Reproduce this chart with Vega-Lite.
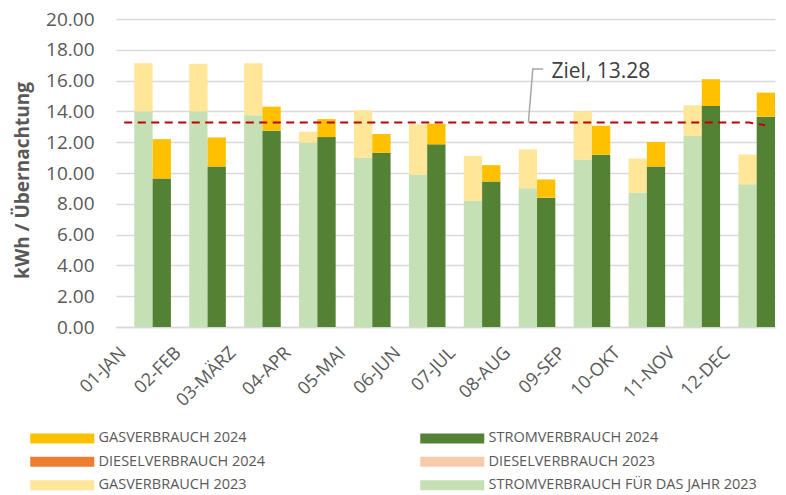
{
  "$schema": "https://vega.github.io/schema/vega-lite/v6.json",
  "width": 659,
  "height": 308,
  "autosize": "none",
  "padding": {"left": 116, "top": 19, "right": 11, "bottom": 168},
  "config": {
    "view": {"stroke": null},
    "font": "Open Sans",
    "axis": {"labelColor": "#595959", "titleColor": "#595959"}
  },
  "datasets": {
    "verbrauch": [
      {"monat": "01-JAN", "jahr": "2023", "typ": "Strom", "serie": "STROMVERBRAUCH FÜR DAS JAHR 2023", "wert": 14.0},
      {"monat": "01-JAN", "jahr": "2023", "typ": "Gas", "serie": "GASVERBRAUCH 2023", "wert": 3.13},
      {"monat": "01-JAN", "jahr": "2024", "typ": "Strom", "serie": "STROMVERBRAUCH 2024", "wert": 9.64},
      {"monat": "01-JAN", "jahr": "2024", "typ": "Gas", "serie": "GASVERBRAUCH 2024", "wert": 2.56},
      {"monat": "02-FEB", "jahr": "2023", "typ": "Strom", "serie": "STROMVERBRAUCH FÜR DAS JAHR 2023", "wert": 14.0},
      {"monat": "02-FEB", "jahr": "2023", "typ": "Gas", "serie": "GASVERBRAUCH 2023", "wert": 3.09},
      {"monat": "02-FEB", "jahr": "2024", "typ": "Strom", "serie": "STROMVERBRAUCH 2024", "wert": 10.42},
      {"monat": "02-FEB", "jahr": "2024", "typ": "Gas", "serie": "GASVERBRAUCH 2024", "wert": 1.89},
      {"monat": "03-MÄRZ", "jahr": "2023", "typ": "Strom", "serie": "STROMVERBRAUCH FÜR DAS JAHR 2023", "wert": 13.75},
      {"monat": "03-MÄRZ", "jahr": "2023", "typ": "Gas", "serie": "GASVERBRAUCH 2023", "wert": 3.38},
      {"monat": "03-MÄRZ", "jahr": "2024", "typ": "Strom", "serie": "STROMVERBRAUCH 2024", "wert": 12.75},
      {"monat": "03-MÄRZ", "jahr": "2024", "typ": "Gas", "serie": "GASVERBRAUCH 2024", "wert": 1.56},
      {"monat": "04-APR", "jahr": "2023", "typ": "Strom", "serie": "STROMVERBRAUCH FÜR DAS JAHR 2023", "wert": 11.97},
      {"monat": "04-APR", "jahr": "2023", "typ": "Gas", "serie": "GASVERBRAUCH 2023", "wert": 0.71},
      {"monat": "04-APR", "jahr": "2024", "typ": "Strom", "serie": "STROMVERBRAUCH 2024", "wert": 12.33},
      {"monat": "04-APR", "jahr": "2024", "typ": "Gas", "serie": "GASVERBRAUCH 2024", "wert": 1.17},
      {"monat": "05-MAI", "jahr": "2023", "typ": "Strom", "serie": "STROMVERBRAUCH FÜR DAS JAHR 2023", "wert": 10.97},
      {"monat": "05-MAI", "jahr": "2023", "typ": "Gas", "serie": "GASVERBRAUCH 2023", "wert": 3.1},
      {"monat": "05-MAI", "jahr": "2024", "typ": "Strom", "serie": "STROMVERBRAUCH 2024", "wert": 11.31},
      {"monat": "05-MAI", "jahr": "2024", "typ": "Gas", "serie": "GASVERBRAUCH 2024", "wert": 1.22},
      {"monat": "06-JUN", "jahr": "2023", "typ": "Strom", "serie": "STROMVERBRAUCH FÜR DAS JAHR 2023", "wert": 9.9},
      {"monat": "06-JUN", "jahr": "2023", "typ": "Gas", "serie": "GASVERBRAUCH 2023", "wert": 3.26},
      {"monat": "06-JUN", "jahr": "2024", "typ": "Strom", "serie": "STROMVERBRAUCH 2024", "wert": 11.86},
      {"monat": "06-JUN", "jahr": "2024", "typ": "Gas", "serie": "GASVERBRAUCH 2024", "wert": 1.34},
      {"monat": "07-JUL", "jahr": "2023", "typ": "Strom", "serie": "STROMVERBRAUCH FÜR DAS JAHR 2023", "wert": 8.21},
      {"monat": "07-JUL", "jahr": "2023", "typ": "Gas", "serie": "GASVERBRAUCH 2023", "wert": 2.89},
      {"monat": "07-JUL", "jahr": "2024", "typ": "Strom", "serie": "STROMVERBRAUCH 2024", "wert": 9.45},
      {"monat": "07-JUL", "jahr": "2024", "typ": "Gas", "serie": "GASVERBRAUCH 2024", "wert": 1.06},
      {"monat": "08-AUG", "jahr": "2023", "typ": "Strom", "serie": "STROMVERBRAUCH FÜR DAS JAHR 2023", "wert": 9.01},
      {"monat": "08-AUG", "jahr": "2023", "typ": "Gas", "serie": "GASVERBRAUCH 2023", "wert": 2.52},
      {"monat": "08-AUG", "jahr": "2024", "typ": "Strom", "serie": "STROMVERBRAUCH 2024", "wert": 8.4},
      {"monat": "08-AUG", "jahr": "2024", "typ": "Gas", "serie": "GASVERBRAUCH 2024", "wert": 1.18},
      {"monat": "09-SEP", "jahr": "2023", "typ": "Strom", "serie": "STROMVERBRAUCH FÜR DAS JAHR 2023", "wert": 10.88},
      {"monat": "09-SEP", "jahr": "2023", "typ": "Gas", "serie": "GASVERBRAUCH 2023", "wert": 3.12},
      {"monat": "09-SEP", "jahr": "2024", "typ": "Strom", "serie": "STROMVERBRAUCH 2024", "wert": 11.19},
      {"monat": "09-SEP", "jahr": "2024", "typ": "Gas", "serie": "GASVERBRAUCH 2024", "wert": 1.88},
      {"monat": "10-OKT", "jahr": "2023", "typ": "Strom", "serie": "STROMVERBRAUCH FÜR DAS JAHR 2023", "wert": 8.73},
      {"monat": "10-OKT", "jahr": "2023", "typ": "Gas", "serie": "GASVERBRAUCH 2023", "wert": 2.21},
      {"monat": "10-OKT", "jahr": "2024", "typ": "Strom", "serie": "STROMVERBRAUCH 2024", "wert": 10.42},
      {"monat": "10-OKT", "jahr": "2024", "typ": "Gas", "serie": "GASVERBRAUCH 2024", "wert": 1.59},
      {"monat": "11-NOV", "jahr": "2023", "typ": "Strom", "serie": "STROMVERBRAUCH FÜR DAS JAHR 2023", "wert": 12.4},
      {"monat": "11-NOV", "jahr": "2023", "typ": "Gas", "serie": "GASVERBRAUCH 2023", "wert": 2.0},
      {"monat": "11-NOV", "jahr": "2024", "typ": "Strom", "serie": "STROMVERBRAUCH 2024", "wert": 14.35},
      {"monat": "11-NOV", "jahr": "2024", "typ": "Gas", "serie": "GASVERBRAUCH 2024", "wert": 1.74},
      {"monat": "12-DEC", "jahr": "2023", "typ": "Strom", "serie": "STROMVERBRAUCH FÜR DAS JAHR 2023", "wert": 9.27},
      {"monat": "12-DEC", "jahr": "2023", "typ": "Gas", "serie": "GASVERBRAUCH 2023", "wert": 1.93},
      {"monat": "12-DEC", "jahr": "2024", "typ": "Strom", "serie": "STROMVERBRAUCH 2024", "wert": 13.66},
      {"monat": "12-DEC", "jahr": "2024", "typ": "Gas", "serie": "GASVERBRAUCH 2024", "wert": 1.56}
    ],
    "ziel": [
      {"pos": 0.15, "wert": 13.28},
      {"pos": 11.53, "wert": 13.28},
      {"pos": 11.82, "wert": 13.1}
    ],
    "leader": [
      {"pos": 7.51, "wert": 13.28},
      {"pos": 7.59, "wert": 16.75},
      {"pos": 7.78, "wert": 16.75}
    ],
    "label": [
      {"pos": 7.93, "wert": 16.15, "text": "Ziel, 13.28"}
    ]
  },
  "layer": [
    {
      "data": {"name": "verbrauch"},
      "mark": {"type": "bar"},
      "encoding": {
        "x": {
          "field": "monat", "type": "nominal", "sort": null,
          "scale": {"paddingInner": 0, "paddingOuter": 0},
          "axis": {
            "title": null, "ticks": false, "grid": false,
            "domainColor": "#D9D9D9", "domainWidth": 1.5,
            "labelAngle": -45, "labelAlign": "right", "labelBaseline": "middle",
            "labelFontSize": 18, "labelPadding": 23, "labelOffset": -20
          }
        },
        "xOffset": {
          "field": "jahr", "type": "nominal",
          "scale": {"domain": ["-", "2023", "2024"], "paddingInner": 0, "paddingOuter": 0}
        },
        "y": {
          "field": "wert", "type": "quantitative", "stack": "zero",
          "scale": {"domain": [0, 20], "nice": false},
          "axis": {
            "title": "kWh / Übernachtung", "titleFontSize": 19, "titleFontWeight": "bold",
            "titlePadding": 13, "titleY": 161,
            "values": [0, 2, 4, 6, 8, 10, 12, 14, 16, 18, 20], "format": ".2f",
            "labelOverlap": false,
            "labelFontSize": 19, "labelPadding": 22, "ticks": false, "domain": false,
            "gridColor": "#D9D9D9", "gridWidth": 1.5
          }
        },
        "color": {
          "field": "serie", "type": "nominal",
          "scale": {
            "domain": ["GASVERBRAUCH 2024", "DIESELVERBRAUCH 2024", "GASVERBRAUCH 2023", "STROMVERBRAUCH 2024", "DIESELVERBRAUCH 2023", "STROMVERBRAUCH FÜR DAS JAHR 2023"],
            "range": ["#FFC000", "#ED7D31", "#FFE699", "#548235", "#F8CBAD", "#C5E0B4"]
          },
          "legend": {
            "title": null, "orient": "none", "legendX": -88, "legendY": 412,
            "columns": 2, "columnPadding": 152, "rowPadding": 8.5,
            "symbolType": "M-1,-1H11.8V1H-1Z", "symbolSize": 100,
            "symbolStrokeWidth": 0,
            "labelFontSize": 14.5, "labelColor": "#595959", "labelOffset": 56, "labelLimit": 400
          }
        },
        "order": {"field": "typ", "sort": "descending"}
      }
    },
    {
      "data": {"name": "ziel"},
      "mark": {"type": "line", "color": "#C00000", "strokeWidth": 2, "strokeDash": [8, 5.5]},
      "encoding": {
        "x": {"field": "pos", "type": "quantitative", "scale": {"domain": [0, 12], "nice": false}, "axis": null},
        "y": {
          "field": "wert", "type": "quantitative", "scale": {"domain": [0, 20], "nice": false},
          "axis": {
            "title": "kWh / Übernachtung", "titleFontSize": 19, "titleFontWeight": "bold",
            "titlePadding": 13, "titleY": 161,
            "values": [0, 2, 4, 6, 8, 10, 12, 14, 16, 18, 20], "format": ".2f",
            "labelOverlap": false,
            "labelFontSize": 19, "labelPadding": 22, "ticks": false, "domain": false,
            "gridColor": "#D9D9D9", "gridWidth": 1.5
          }
        }
      }
    },
    {
      "data": {"name": "leader"},
      "mark": {"type": "line", "color": "#A6A6A6", "strokeWidth": 1.5},
      "encoding": {
        "x": {"field": "pos", "type": "quantitative", "scale": {"domain": [0, 12], "nice": false}, "axis": null},
        "y": {
          "field": "wert", "type": "quantitative", "scale": {"domain": [0, 20], "nice": false},
          "axis": {
            "title": "kWh / Übernachtung", "titleFontSize": 19, "titleFontWeight": "bold",
            "titlePadding": 13, "titleY": 161,
            "values": [0, 2, 4, 6, 8, 10, 12, 14, 16, 18, 20], "format": ".2f",
            "labelOverlap": false,
            "labelFontSize": 19, "labelPadding": 22, "ticks": false, "domain": false,
            "gridColor": "#D9D9D9", "gridWidth": 1.5
          }
        }
      }
    },
    {
      "data": {"name": "label"},
      "mark": {"type": "text", "align": "left", "baseline": "alphabetic", "fontSize": 21, "color": "#404040"},
      "encoding": {
        "x": {"field": "pos", "type": "quantitative", "scale": {"domain": [0, 12], "nice": false}, "axis": null},
        "y": {
          "field": "wert", "type": "quantitative", "scale": {"domain": [0, 20], "nice": false},
          "axis": {
            "title": "kWh / Übernachtung", "titleFontSize": 19, "titleFontWeight": "bold",
            "titlePadding": 13, "titleY": 161,
            "values": [0, 2, 4, 6, 8, 10, 12, 14, 16, 18, 20], "format": ".2f",
            "labelOverlap": false,
            "labelFontSize": 19, "labelPadding": 22, "ticks": false, "domain": false,
            "gridColor": "#D9D9D9", "gridWidth": 1.5
          }
        },
        "text": {"field": "text"}
      }
    }
  ],
  "resolve": {"scale": {"x": "independent"}}
}
